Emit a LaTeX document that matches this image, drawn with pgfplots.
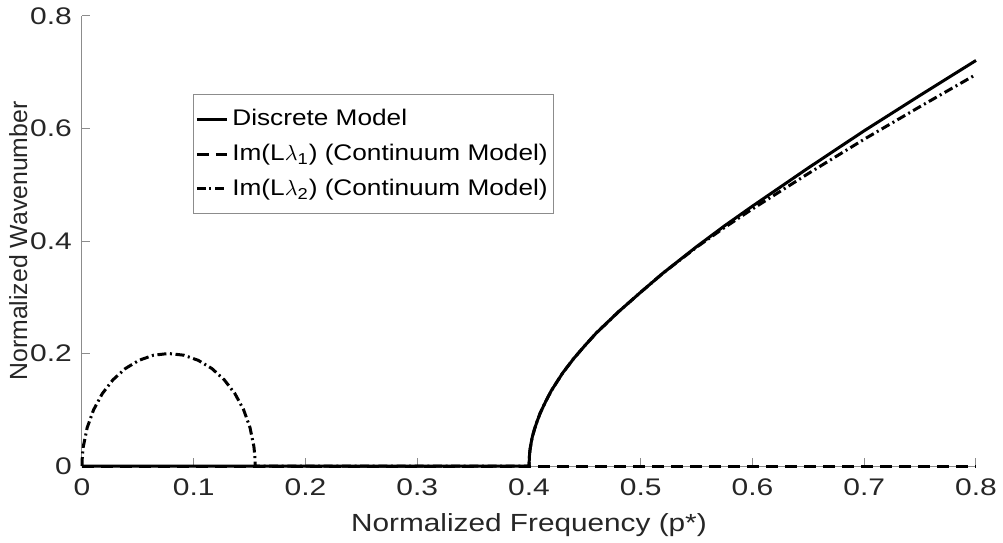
\documentclass[border=0pt]{standalone}
\usepackage{pgfplots}
\pgfplotsset{compat=1.18}
\usepackage{fontspec}
\setmainfont{Liberation Sans}[FakeStretch=1.16]
\newfontfamily\ylabfont{Liberation Sans}
\newfontfamily\tickfont{Liberation Sans}[FakeStretch=1.25]
\newfontfamily\xlabfont{Liberation Sans}[FakeStretch=1.2]
\definecolor{axgray}{RGB}{140,140,140}
\definecolor{txt}{RGB}{38,38,38}
\newcommand{\fs}{\fontsize{11.3}{13}\selectfont}
\newcommand{\fl}{\fontsize{12.4}{14}\selectfont}
\newcommand{\ft}{\fontsize{12}{14}\selectfont}
\begin{document}
\begin{tikzpicture}
\path[use as bounding box] (-41pt,-38pt) rectangle (460.5pt,233pt);
\begin{axis}[
  at={(0,0)}, anchor=south west,
  scale only axis, width=447pt, height=225pt,
  xmin=0, xmax=0.8, ymin=0, ymax=0.8,
  axis lines=left,
  axis line style={-, axgray, line width=0.5pt},
  every outer x axis line/.append style={-},
  every outer y axis line/.append style={-},
  tick align=inside, major tick length=4pt,
  tick style={axgray, line width=0.5pt},
  xtick={0,0.1,0.2,0.3,0.4,0.5,0.6,0.7,0.8},
  xticklabels={0,0.1,0.2,0.3,0.4,0.5,0.6,0.7,0.8},
  ytick={0,0.2,0.4,0.6,0.8},
  yticklabels={0,0.2,0.4,0.6,0.8},
  ticklabel style={font=\tickfont\ft, text=txt},
  xticklabel style={yshift=-3pt},
  yticklabel style={xshift=-1.5pt},
  xlabel={Normalized Frequency (p*)},
  xlabel style={at={(axis description cs:0.5,-0.145)}, anchor=base, font=\xlabfont\fl, text=txt},
  ylabel={Normalized Wavenumber},
  ylabel style={at={(axis description cs:-0.0615,0.5)}, anchor=base, font=\ylabfont\fl, text=txt},
  clip=false,
  legend cell align=left,
  legend style={at={(0.124,0.827)}, anchor=north west, draw=axgray, line width=0.5pt,
    fill=white, font=\fs, text=black, inner xsep=1pt, inner ysep=5.5pt, row sep=3.8pt},
  legend image code/.code={\draw[#1] (0pt,0pt) -- (15pt,0pt);},
]
\addplot[black, line width=1.5pt] coordinates {
(0,0) (0.4,0) (0.4005,0.021) (0.401,0.030) (0.402,0.042) (0.403,0.052) (0.405,0.066)
(0.407,0.078) (0.41,0.094) (0.415,0.115) (0.42,0.134) (0.43,0.165) (0.44,0.191)
(0.45,0.214) (0.46,0.236) (0.48,0.274) (0.50,0.309) (0.52,0.343) (0.55,0.390)
(0.575,0.427) (0.60,0.462) (0.65,0.530) (0.70,0.596) (0.75,0.659) (0.80,0.721)
};
\addlegendentry{Discrete Model}
\addplot[black, line width=1.5pt, dash pattern=on 6pt off 3.5pt] coordinates {
(0,0) (0.8,0)
};
\addlegendentry{Im(L$\lambda$\textsubscript{1}) (Continuum Model)}
\addplot[black, line width=1.5pt, dash pattern=on 4.5pt off 1.8pt on 1pt off 1.8pt] coordinates {
(0,0) (0.00029,0.0174) (0.00118,0.0347) (0.00467,0.0684) (0.01039,0.1000)
(0.01814,0.1286) (0.02768,0.1532) (0.03875,0.1732) (0.05100,0.1879) (0.06405,0.1970)
(0.0775,0.2000) (0.09095,0.1970) (0.10400,0.1879) (0.11625,0.1732) (0.12732,0.1532)
(0.13687,0.1286) (0.14462,0.1000) (0.15033,0.0684) (0.15382,0.0347) (0.15471,0.0174)
(0.155,0) (0.4,0) (0.4005,0.021) (0.401,0.030) (0.402,0.042) (0.403,0.052) (0.405,0.066)
(0.407,0.078) (0.41,0.094) (0.415,0.115) (0.42,0.134) (0.43,0.165) (0.44,0.191)
(0.45,0.214) (0.46,0.236) (0.48,0.274) (0.50,0.309) (0.52,0.343) (0.55,0.389)
(0.575,0.424) (0.60,0.457) (0.65,0.520) (0.70,0.581) (0.75,0.639) (0.80,0.696)
};
\addlegendentry{Im(L$\lambda$\textsubscript{2}) (Continuum Model)}
\end{axis}
\end{tikzpicture}
\end{document}
